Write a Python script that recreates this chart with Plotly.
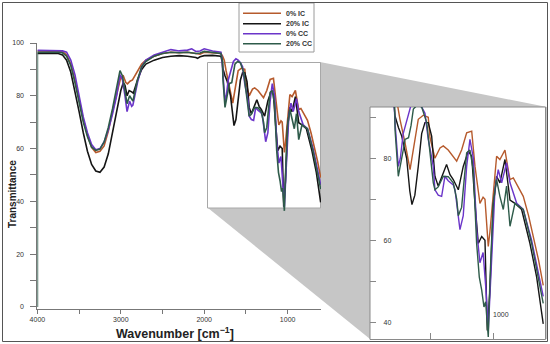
import plotly.graph_objects as go

series_names = ["0% IC", "20% IC", "0% CC", "20% CC"]
series_colors = ["#b65a2c", "#151515", "#6b35c9", "#2e5b4a"]

wn_ic0 = [4000,3750,3700,3650,3600,3550,3500,3450,3400,3350,3300,3250,3200,3150,3100,3050,3000,2970,2940,2920,2890,2860,2800,2750,2700,2600,2500,2400,2300,2200,2100,2050,2000,1900,1800,1780,1760,1738,1698,1658,1619,1593,1553,1514,1500,1461,1421,1395,1356,1316,1289,1250,1210,1170,1144,1118,1105,1080,1065,1047,1039,1026,1012,990,973,947,920,907,880,867,841,800,762,720,683,640,604]
t_ic0 = [97.0,97.0,96.8,95.5,92.0,86.0,78.0,71.0,65.0,60.5,58.5,59.0,61.0,66.5,74.0,81.0,87.0,87.5,85.0,84.5,85.5,86.0,89.5,92.0,93.5,95.0,96.0,96.5,96.3,96.5,96.0,95.8,96.5,96.3,96.0,95.0,93.5,89.5,83.8,77.2,84.6,89.5,90.5,90.0,85.0,80.0,82.5,83.0,82.0,80.5,79.3,82.0,86.2,86.6,78.0,72.0,69.0,70.5,70.0,62.0,58.5,62.0,66.7,75.0,80.5,79.7,81.5,82.0,77.0,74.8,75.2,73.0,70.7,66.0,61.0,55.0,49.0]

wn_ic20 = [4000,3750,3700,3650,3600,3550,3500,3450,3400,3350,3300,3250,3200,3150,3100,3050,3000,2970,2950,2925,2900,2870,2850,2800,2750,2700,2600,2500,2400,2300,2200,2100,2080,2050,2000,1900,1800,1785,1777,1750,1724,1685,1660,1643,1620,1593,1566,1540,1514,1487,1461,1435,1395,1369,1342,1316,1276,1237,1197,1170,1144,1118,1091,1065,1047,1026,1000,973,947,907,867,828,775,709,656,604]
t_ic20 = [96.0,96.0,95.5,93.5,89.0,82.0,74.0,66.0,59.0,54.0,51.5,51.0,53.0,58.0,66.0,75.0,82.0,85.0,84.0,80.0,82.0,81.5,81.0,86.0,90.0,92.0,93.5,94.5,95.0,95.2,95.0,94.5,94.2,94.8,95.2,95.3,95.0,93.0,90.3,87.5,85.4,80.0,72.0,68.7,71.0,78.0,86.0,88.7,88.7,85.4,75.6,73.2,76.5,78.5,76.0,74.8,72.3,78.0,81.7,80.5,69.0,59.2,60.9,60.0,38.0,47.8,68.3,75.6,74.0,79.7,69.8,69.0,67.5,59.2,51.0,39.6]

wn_cc0 = [4000,3750,3700,3650,3600,3550,3500,3450,3400,3350,3300,3250,3200,3150,3100,3050,3010,2980,2950,2925,2895,2870,2855,2800,2750,2700,2600,2500,2400,2300,2200,2150,2100,2050,2000,1900,1800,1785,1777,1751,1735,1712,1685,1650,1620,1593,1566,1540,1514,1474,1461,1435,1408,1382,1356,1316,1302,1263,1237,1210,1184,1157,1131,1105,1080,1057,1039,1012,986,960,933,894,867,814,762,696,604]
t_cc0 = [97.2,97.2,97.0,96.5,93.5,88.0,80.0,72.0,66.0,61.5,59.5,60.0,62.5,67.0,73.0,80.0,88.0,86.0,80.0,74.0,78.0,76.0,76.5,85.0,91.0,93.5,95.5,96.5,97.5,97.0,97.3,97.8,96.8,97.0,97.8,97.0,96.5,94.0,88.7,78.0,80.0,86.0,89.0,93.0,94.0,93.5,92.5,91.0,84.6,78.0,72.3,71.0,70.7,75.6,74.5,73.5,72.3,62.6,66.0,78.0,84.6,80.0,62.6,54.5,57.0,47.8,38.0,56.0,72.3,77.2,74.0,78.9,74.0,69.0,67.5,60.0,46.3]

wn_cc20 = [4000,4000,3750,3700,3650,3600,3550,3500,3450,3400,3350,3300,3250,3200,3150,3100,3050,3010,2980,2950,2925,2895,2870,2855,2800,2750,2700,2600,2500,2400,2300,2200,2100,2050,2000,1900,1800,1780,1777,1751,1735,1712,1698,1670,1650,1632,1600,1566,1526,1500,1474,1461,1435,1395,1356,1316,1289,1276,1250,1210,1184,1157,1131,1110,1091,1073,1060,1039,1026,1000,973,947,920,894,867,828,762,696,604]
t_cc20 = [0.0,96.5,96.5,96.3,95.0,91.5,85.0,77.0,70.0,64.5,60.5,59.3,59.8,62.5,68.0,75.0,83.0,89.5,87.5,82.0,77.0,80.0,78.5,78.0,86.0,91.0,93.0,95.0,96.0,96.5,96.3,96.5,96.0,96.2,96.8,96.5,96.0,93.0,87.0,75.6,78.0,82.0,84.6,85.0,88.0,92.0,93.0,92.5,88.7,82.0,74.0,72.3,73.0,75.6,75.5,74.0,70.0,66.0,68.0,81.3,82.0,77.0,59.2,51.0,47.8,43.7,45.0,36.4,50.0,69.0,74.8,70.7,67.5,73.2,63.4,69.0,67.5,59.2,44.6]

x_title = "Wavenumber [cm<sup>−1</sup>]"
y_title = "Transmittance"
inset_x_ticks = [1500, 1000]
inset_x_labels = ["", "1000"]

W, H = 550, 344
def px(x):
    return x / W
def py(y):
    return 1 - y / H

fig = go.Figure()
xs = [wn_ic0, wn_ic20, wn_cc0, wn_cc20]
ys = [t_ic0, t_ic20, t_cc0, t_cc20]
for name, col, x, y in zip(series_names, series_colors, xs, ys):
    fig.add_trace(go.Scatter(x=x, y=y, mode="lines", name=name,
                             line=dict(color=col, width=1.6), showlegend=False,
                             xaxis="x", yaxis="y"))
for name, col, x, y in zip(series_names, series_colors, xs, ys):
    fig.add_trace(go.Scatter(x=x, y=y, mode="lines", name=name,
                             line=dict(color=col, width=1.4), showlegend=False,
                             xaxis="x2", yaxis="y2"))

tickfont = dict(family="Liberation Sans", size=7, color="#333")
fig.update_layout(
    template="none",
    width=W, height=H, autosize=False,
    margin=dict(l=0, r=0, t=0, b=0, pad=0),
    paper_bgcolor="white", plot_bgcolor="white",
    font=dict(family="Liberation Sans", color="#222"),
    showlegend=False,
    xaxis=dict(domain=[37.4 / W, 321 / W], range=[4000, 600], anchor="y", automargin=False,
               showgrid=False, zeroline=False, showline=True, linecolor="#777", linewidth=1,
               ticks="outside", ticklen=4, tickcolor="#777", dtick=1000, tick0=0,
               minor=dict(dtick=500, ticks="outside", ticklen=4, tickcolor="#777", showgrid=False),
               tickfont=tickfont),
    yaxis=dict(domain=[py(309), py(43)], range=[-0.8, 100], anchor="x", automargin=False,
               showgrid=False, zeroline=False, showline=True, linecolor="#777", linewidth=1,
               ticks="outside", ticklen=6, tickcolor="#777", dtick=20, tick0=0,
               minor=dict(dtick=10, ticks="outside", ticklen=6, tickcolor="#777", showgrid=False),
               ticklabelstandoff=5, tickfont=tickfont),
    xaxis2=dict(domain=[370 / W, 545 / W], range=[1975, 590], anchor="y2", automargin=False,
                showgrid=False, zeroline=False, showline=False,
                ticks="inside", ticklen=6, tickcolor="#888",
                tickvals=inset_x_ticks, ticktext=inset_x_labels, showticklabels=False),
    yaxis2=dict(domain=[py(339), py(107)], range=[35.9, 92.5], anchor="x2", automargin=False,
                showgrid=False, zeroline=False, showline=False,
                ticks="inside", ticklen=6, tickcolor="#888", dtick=20, tick0=0,
                minor=dict(dtick=10, ticks="inside", ticklen=6, tickcolor="#888", showgrid=False),
                ticklabelposition="inside", ticklabelstandoff=6, tickfont=tickfont),
)

shapes = []
# shadow connecting the highlighted region to the magnified inset
shapes.append(dict(type="path", xref="paper", yref="paper", layer="below",
                   path=f"M {px(208)},{py(62)} L {px(320)},{py(62)} L {px(547)},{py(107)} "
                        f"L {px(547)},{py(339)} L {px(370)},{py(339)} L {px(208)},{py(208)} Z",
                   fillcolor="#c6c6c6", line=dict(width=0)))
# highlighted region box in main plot
shapes.append(dict(type="rect", xref="paper", yref="paper", layer="below",
                   x0=px(207.5), x1=px(320.5), y0=py(208), y1=py(62.5),
                   fillcolor="white", line=dict(color="#a8a8a8", width=1)))
# inset frame
shapes.append(dict(type="rect", xref="paper", yref="paper", layer="below",
                   x0=px(370), x1=px(545.5), y0=py(339.5), y1=py(107),
                   fillcolor="white", line=dict(color="#8a8a8a", width=1)))
# legend box
shapes.append(dict(type="rect", xref="paper", yref="paper", layer="below",
                   x0=px(239), x1=px(314), y0=py(52), y1=py(3),
                   fillcolor="white", line=dict(color="#9a9a9a", width=1)))
# outer frame
shapes.append(dict(type="rect", xref="paper", yref="paper", layer="above",
                   x0=px(2.5), x1=px(547.5), y0=py(341.5), y1=py(2.5),
                   fillcolor="rgba(0,0,0,0)", line=dict(color="#555", width=1)))

annotations = []
row_y = [13.3, 23.7, 33.7, 43.7]
for name, col, ry in zip(series_names, series_colors, row_y):
    shapes.append(dict(type="line", xref="paper", yref="paper", layer="above",
                       x0=px(243), x1=px(281), y0=py(ry), y1=py(ry),
                       line=dict(color=col, width=1.6)))
    annotations.append(dict(text=name, xref="paper", yref="paper", x=px(284.5), y=py(ry),
                            xanchor="left", yanchor="middle", showarrow=False,
                            font=dict(family="Liberation Sans", size=7, color="#333", weight="bold")))

annotations.append(dict(text=y_title, xref="paper", yref="paper", x=px(12), y=py(194),
                        textangle=-90, showarrow=False, xanchor="center", yanchor="middle",
                        font=dict(family="Liberation Sans", size=10, color="#222", weight="bold")))
annotations.append(dict(text=x_title, xref="paper", yref="paper", x=px(175), y=py(333),
                        showarrow=False, xanchor="center", yanchor="middle",
                        font=dict(family="Liberation Sans", size=12.5, color="#222", weight="bold")))
for tv, tl in zip(inset_x_ticks, inset_x_labels):
    if tl:
        annotations.append(dict(text=tl, xref="x2", yref="paper", x=tv, y=py(314),
                                xanchor="left", yanchor="middle", showarrow=False, xshift=-2,
                                font=tickfont))

fig.update_layout(shapes=shapes, annotations=annotations)
fig.write_html("out.html",
               config={"displayModeBar": False},
               post_script="document.body.style.margin='0';document.body.style.padding='0';"
                           "document.documentElement.style.overflow='hidden';")
